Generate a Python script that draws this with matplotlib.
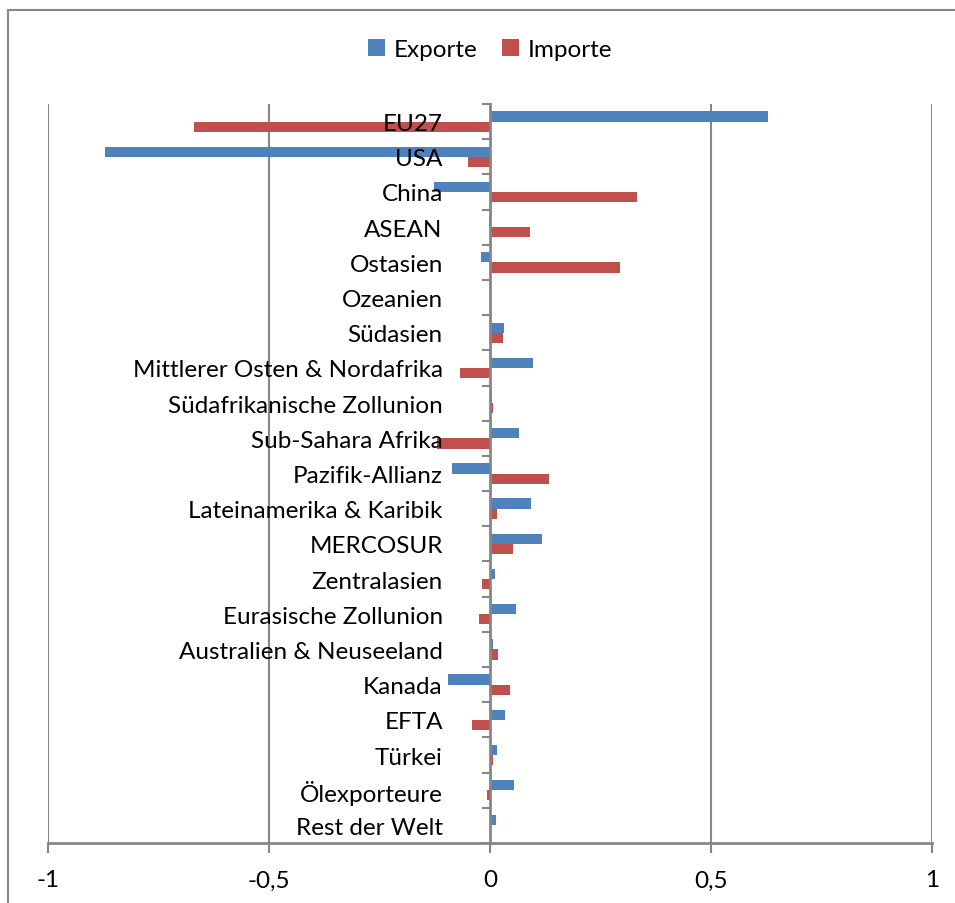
import matplotlib.pyplot as plt
import numpy as np
from matplotlib.patches import Rectangle

plt.rcParams['font.family'] = ['Lato', 'DejaVu Sans']

regions = ['EU27', 'USA', 'China', 'ASEAN', 'Ostasien', 'Ozeanien', 'Südasien',
           'Mittlerer Osten & Nordafrika', 'Südafrikanische Zollunion',
           'Sub-Sahara Afrika', 'Pazifik-Allianz', 'Lateinamerika & Karibik',
           'MERCOSUR', 'Zentralasien', 'Eurasische Zollunion',
           'Australien & Neuseeland', 'Kanada', 'EFTA', 'Türkei',
           'Ölexporteure', 'Rest der Welt']
exporte = [0.628, -0.870, -0.127, -0.003, -0.020, 0.0, 0.031,
           0.098, 0.005, 0.065, -0.087, 0.092, 0.118, 0.012,
           0.059, 0.006, -0.094, 0.033, 0.016, 0.055, 0.014]
importe = [-0.669, -0.049, 0.333, 0.090, 0.295, 0.0, 0.029,
           -0.068, 0.006, -0.121, 0.133, 0.015, 0.052, -0.017,
           -0.024, 0.019, 0.045, -0.040, 0.006, -0.007, 0.0]
xticks = [-1, -0.5, 0, 0.5, 1]
xticklabels = ['-1', '-0,5', '0', '0,5', '1']

fs = 17.5

fig = plt.figure(figsize=(9.55, 9.04), dpi=100)
ax = fig.add_axes([48 / 955, 1 - 844 / 904, 884 / 955, 739 / 904])

# outer chart border
fig.patches.append(Rectangle((8 / 955, -0.1), 1.2, 1 - 11 / 904 + 0.1,
                             transform=fig.transFigure, fill=False,
                             edgecolor='#868686', linewidth=1.5))

y = np.arange(len(regions))
h = 0.29
ax.barh(y - h / 2, exporte, height=h, color='#4F81BD', label='Exporte', zorder=2)
ax.barh(y + h / 2, importe, height=h, color='#C0504D', label='Importe', zorder=2)
ax.set_axisbelow(False)

ax.set_xlim(-1, 1)
ax.set_ylim(len(regions) - 0.5, -0.5)
ax.set_xticks(xticks)
ax.set_xticklabels(xticklabels, fontsize=fs)
for x in [-1, -0.5, 0.5, 1]:
    ax.axvline(x, color='#868686', linewidth=1.5, zorder=1)

ax.spines['left'].set_position(('data', 0))
ax.spines['left'].set_color('#868686')
ax.spines['left'].set_linewidth(2)
ax.spines['bottom'].set_color('#868686')
ax.spines['bottom'].set_linewidth(2)
ax.spines['top'].set_visible(False)
ax.spines['right'].set_visible(False)

ax.set_yticks(np.arange(len(regions) + 1) - 0.5, minor=True)
ax.set_yticks(y)
ax.set_yticklabels(regions, fontsize=fs)
ax.tick_params(axis='y', which='major', length=0, pad=34)
ax.tick_params(axis='y', which='minor', length=6, width=1.5, color='#868686')
ax.tick_params(axis='x', length=7, width=1.5, color='#868686', pad=12)

ax.legend(loc='upper center', bbox_to_anchor=(0.5, 1.117), ncol=2, frameon=False,
          fontsize=fs, handlelength=0.7, handleheight=0.7, columnspacing=1.0,
          handletextpad=0.35)

plt.savefig('out.png', dpi=100)
